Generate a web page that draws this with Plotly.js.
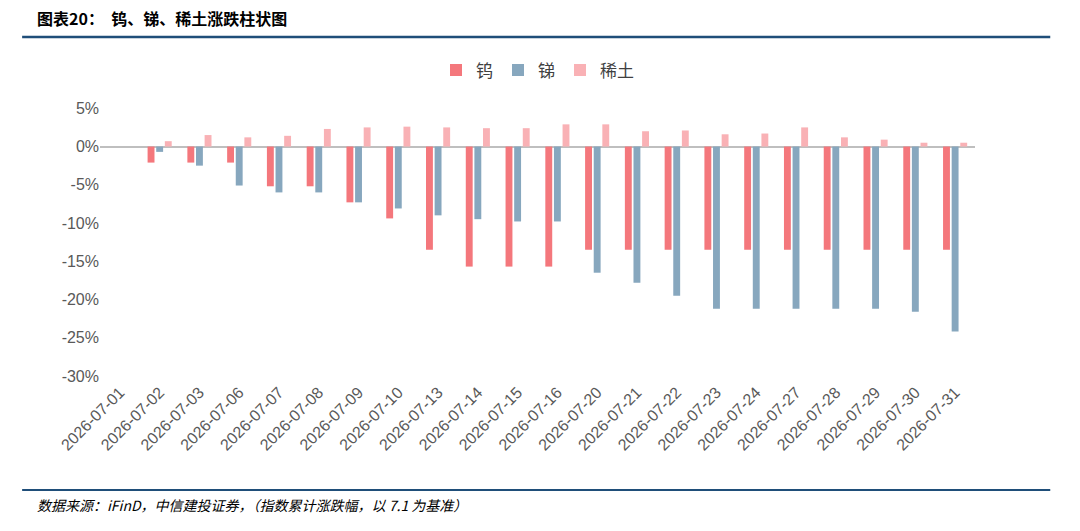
<!DOCTYPE html>
<html><head><meta charset="utf-8">
<script src="https://cdn.plot.ly/plotly-3.0.1.min.js"></script>
<style>body{margin:0}#c{width:1080px;height:531px}</style>
</head><body><div id="c"></div>
<script>
const dates = ['2026-07-01','2026-07-02','2026-07-03','2026-07-06','2026-07-07','2026-07-08','2026-07-09','2026-07-10','2026-07-13','2026-07-14','2026-07-15','2026-07-16','2026-07-20','2026-07-21','2026-07-22','2026-07-23','2026-07-24','2026-07-27','2026-07-28','2026-07-29','2026-07-30','2026-07-31'];
const tungsten = [0,-2.1,-2.1,-2.1,-5.2,-5.2,-7.3,-9.4,-13.5,-15.7,-15.7,-15.7,-13.5,-13.5,-13.5,-13.5,-13.5,-13.5,-13.5,-13.5,-13.5,-13.5];
const antimony = [0,-0.7,-2.5,-5.1,-6.0,-6.0,-7.3,-8.1,-9.0,-9.5,-9.8,-9.8,-16.5,-17.8,-19.5,-21.2,-21.2,-21.2,-21.2,-21.2,-21.6,-24.2];
const rareEarth = [0,0.7,1.5,1.2,1.4,2.3,2.5,2.6,2.5,2.4,2.4,2.9,2.9,2.0,2.1,1.6,1.7,2.5,1.2,0.9,0.5,0.5];
const yTicks = [5,0,-5,-10,-15,-20,-25,-30];
const yTickText = ['5%','0%','-5%','-10%','-15%','-20%','-25%','-30%'];
const font = "'Noto Sans CJK SC', 'Liberation Sans', sans-serif";
const tickFont = {family:"'Liberation Sans', Arial, sans-serif", size:16, color:'#595959'};
const mk = (name, y, color) => ({type:'bar', name, x:dates, y, marker:{color}});
const layout = {
  width:1080, height:531, barmode:'group', bargap:0.35, bargroupgap:0.2,
  margin:{l:100, r:105, t:106, b:152, autoexpand:false},
  paper_bgcolor:'#fff', plot_bgcolor:'#fff',
  font:{family:font, size:15, color:'#595959'},
  showlegend:true,
  legend:{orientation:'h', x:0.5, xanchor:'center', y:1.13, yanchor:'middle', font:{size:17, color:'#404040'}, itemwidth:30},
  xaxis:{type:'category', tickangle:-45, showgrid:false, showline:false, ticks:'', tickfont:tickFont},
  yaxis:{range:[-30.4,5.3], tickvals:yTicks, ticktext:yTickText, showgrid:false, zeroline:true, zerolinecolor:'#bfbfbf', zerolinewidth:1.5, tickfont:tickFont},
  annotations:[
    {xref:'paper', yref:'paper', x:-0.074, y:1.322, xanchor:'left', yanchor:'middle', showarrow:false, text:'<b>图表20：  钨、锑、稀土涨跌柱状图</b>', font:{size:16, color:'#000'}},
    {xref:'paper', yref:'paper', x:-0.074, y:-0.46, xanchor:'left', yanchor:'middle', showarrow:false, text:'<i>数据来源：iFinD，中信建投证券，（指数累计涨跌幅，以 7.1 为基准）</i>', font:{size:14, color:'#000'}}
  ],
  shapes:[
    {type:'line', xref:'paper', yref:'paper', x0:-0.089, x1:1.086, y0:1.253, y1:1.253, line:{color:'#1F4E79', width:2.5}},
    {type:'line', xref:'paper', yref:'paper', x0:-0.089, x1:1.086, y0:-0.407, y1:-0.407, line:{color:'#1F4E79', width:2}}
  ]
};
Plotly.newPlot('c', [mk('钨', tungsten, '#F4777C'), mk('锑', antimony, '#87A7BE'), mk('稀土', rareEarth, '#F9B1B5')], layout, {displayModeBar:false});
</script></body></html>
